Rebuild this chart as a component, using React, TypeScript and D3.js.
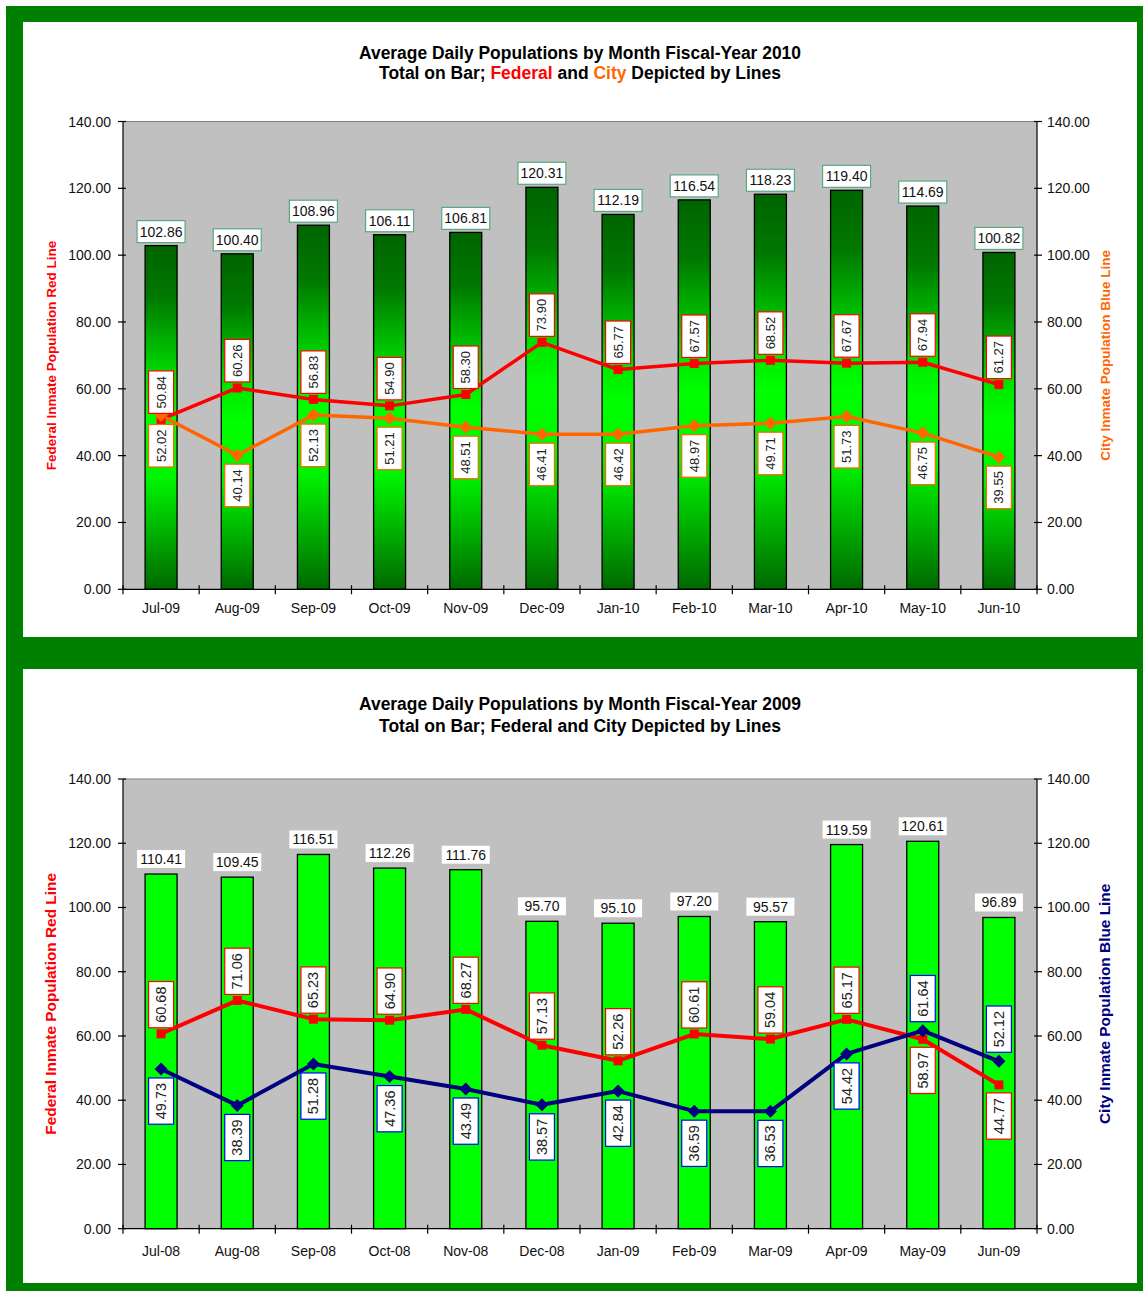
import * as d3 from 'd3';

// FY 2010 (top chart)
const MONTHS_2010 = ['Jul-09', 'Aug-09', 'Sep-09', 'Oct-09', 'Nov-09', 'Dec-09', 'Jan-10', 'Feb-10', 'Mar-10', 'Apr-10', 'May-10', 'Jun-10'];
const TOTAL_2010 = [102.86, 100.4, 108.96, 106.11, 106.81, 120.31, 112.19, 116.54, 118.23, 119.4, 114.69, 100.82];
const FEDERAL_2010 = [50.84, 60.26, 56.83, 54.9, 58.3, 73.9, 65.77, 67.57, 68.52, 67.67, 67.94, 61.27];
const CITY_2010 = [52.02, 40.14, 52.13, 51.21, 48.51, 46.41, 46.42, 48.97, 49.71, 51.73, 46.75, 39.55];

// FY 2009 (bottom chart)
const MONTHS_2009 = ['Jul-08', 'Aug-08', 'Sep-08', 'Oct-08', 'Nov-08', 'Dec-08', 'Jan-09', 'Feb-09', 'Mar-09', 'Apr-09', 'May-09', 'Jun-09'];
const TOTAL_2009 = [110.41, 109.45, 116.51, 112.26, 111.76, 95.7, 95.1, 97.2, 95.57, 119.59, 120.61, 96.89];
const FEDERAL_2009 = [60.68, 71.06, 65.23, 64.9, 68.27, 57.13, 52.26, 60.61, 59.04, 65.17, 58.97, 44.77];
const CITY_2009 = [49.73, 38.39, 51.28, 47.36, 43.49, 38.57, 42.84, 36.59, 36.53, 54.42, 61.64, 52.12];

const Y_TICKS = [0, 20, 40, 60, 80, 100, 120, 140];

const FONT = '"Liberation Sans", Arial, Helvetica, sans-serif';
const FRAME = '#008000';

interface ChartCfg {
  id: string;
  months: string[];
  totals: number[];
  federal: number[];
  city: number[];
  cityColor: string;
  cityBox: string;
  gradient: boolean;
  labelMode: 'federalAbove' | 'higherAbove';
  title1: string;
  title2: { t: string; c: string }[];
  titleSize: number;
  titleY: [number, number];
  plotTop: number;
  plotBottom: number;
  axisTitleSize: number;
  labelSize: number;
  totalBorder: string | null;
  xLabelY: number;
  lineWidth: number;
}

const PLOT_LEFT = 123;
const PLOT_RIGHT = 1037;

function diamond(cx: number, cy: number, r: number) {
  return `M${cx},${cy - r}L${cx + r},${cy}L${cx},${cy + r}L${cx - r},${cy}Z`;
}

function Chart({ cfg }: { cfg: ChartCfg }) {
  const x = d3.scaleBand<string>().domain(cfg.months).range([PLOT_LEFT, PLOT_RIGHT]);
  const y = d3.scaleLinear().domain([0, 140]).range([cfg.plotBottom, cfg.plotTop]);
  const bw = x.bandwidth() * 0.42;
  const cx = (i: number) => (x(cfg.months[i]) as number) + x.bandwidth() / 2;

  const line = d3.line<number>().x((_, i) => cx(i)).y(d => y(d));

  const boxW = 25;
  const boxH = cfg.labelSize * 2.5 + 10;

  const fedAbove = (i: number) =>
    cfg.labelMode === 'federalAbove' ? true : cfg.federal[i] >= cfg.city[i];

  const rotLabel = (v: number, i: number, above: boolean, gap: number, stroke: string, key: string) => {
    const px = cx(i);
    const py = y(v);
    const cy = above ? py - gap - boxH / 2 : py + gap + boxH / 2;
    return (
      <g key={key}>
        <rect x={px - boxW / 2} y={cy - boxH / 2} width={boxW} height={boxH} fill="#fff" stroke={stroke} strokeWidth={1.2} />
        <text
          transform={`translate(${px},${cy}) rotate(-90)`}
          textAnchor="middle"
          dominantBaseline="central"
          fontSize={cfg.labelSize}
          fill="#222"
        >
          {v.toFixed(2)}
        </text>
      </g>
    );
  };

  const midY = (cfg.plotTop + cfg.plotBottom) / 2;

  return (
    <g fontFamily={FONT}>
      <defs>
        <linearGradient id={`${cfg.id}-grad`} x1="0" y1="0" x2="0" y2="1">
          <stop offset="0" stopColor="#006400" />
          <stop offset="0.15" stopColor="#007800" />
          <stop offset="0.4" stopColor="#00e800" />
          <stop offset="0.5" stopColor="#00ff00" />
          <stop offset="0.68" stopColor="#00f400" />
          <stop offset="1" stopColor="#006800" />
        </linearGradient>
      </defs>

      {/* Title */}
      <text x={580} y={cfg.titleY[0]} textAnchor="middle" fontWeight="bold" fontSize={cfg.titleSize}
        textLength={442} lengthAdjust="spacingAndGlyphs">
        {cfg.title1}
      </text>
      <text x={580} y={cfg.titleY[1]} textAnchor="middle" fontWeight="bold" fontSize={cfg.titleSize}
        textLength={402} lengthAdjust="spacingAndGlyphs">
        {cfg.title2.map((p, i) => (
          <tspan key={i} fill={p.c}>{p.t}</tspan>
        ))}
      </text>

      {/* Plot area */}
      <rect x={PLOT_LEFT} y={cfg.plotTop} width={PLOT_RIGHT - PLOT_LEFT} height={cfg.plotBottom - cfg.plotTop} fill="#c0c0c0" />
      <line x1={PLOT_LEFT} x2={PLOT_RIGHT} y1={cfg.plotTop} y2={cfg.plotTop} stroke="#808080" strokeWidth={1} />

      {/* Bars */}
      {cfg.totals.map((v, i) => (
        <rect
          key={`b${i}`}
          x={cx(i) - bw / 2}
          y={y(v)}
          width={bw}
          height={cfg.plotBottom - y(v)}
          fill={cfg.gradient ? `url(#${cfg.id}-grad)` : '#00ff00'}
          stroke="#000"
          strokeWidth={1.3}
        />
      ))}

      {/* Axes */}
      <line x1={PLOT_LEFT} x2={PLOT_LEFT} y1={cfg.plotTop} y2={cfg.plotBottom} stroke="#000" strokeWidth={1.2} />
      <line x1={PLOT_RIGHT} x2={PLOT_RIGHT} y1={cfg.plotTop} y2={cfg.plotBottom} stroke="#000" strokeWidth={1.2} />
      <line x1={PLOT_LEFT} x2={PLOT_RIGHT} y1={cfg.plotBottom} y2={cfg.plotBottom} stroke="#000" strokeWidth={1.2} />

      {Y_TICKS.map(t => (
        <g key={`yt${t}`}>
          <line x1={PLOT_LEFT - 5} x2={PLOT_LEFT + 3} y1={y(t)} y2={y(t)} stroke="#000" strokeWidth={1.2} />
          <line x1={PLOT_RIGHT - 3} x2={PLOT_RIGHT + 5} y1={y(t)} y2={y(t)} stroke="#000" strokeWidth={1.2} />
          <text x={111} y={y(t)} textAnchor="end" dominantBaseline="central" fontSize={14} fill="#111">{t.toFixed(2)}</text>
          <text x={1047} y={y(t)} textAnchor="start" dominantBaseline="central" fontSize={14} fill="#111">{t.toFixed(2)}</text>
        </g>
      ))}

      {[...cfg.months.map(m => x(m) as number), PLOT_RIGHT].map((xx, i) => (
        <line key={`xt${i}`} x1={xx} x2={xx} y1={cfg.plotBottom - 4} y2={cfg.plotBottom + 5} stroke="#000" strokeWidth={1.2} />
      ))}
      {cfg.months.map((m, i) => (
        <text key={`xl${i}`} x={cx(i)} y={cfg.xLabelY} textAnchor="middle" fontSize={14} fill="#111">{m}</text>
      ))}

      {/* Axis titles */}
      <text transform={`translate(56,${midY}) rotate(-90)`} textAnchor="middle" fontWeight="bold"
        fontSize={cfg.axisTitleSize} fill="#ff0000">
        Federal Inmate Population Red Line
      </text>
      <text transform={`translate(${1110},${midY}) rotate(-90)`} textAnchor="middle" fontWeight="bold"
        fontSize={cfg.axisTitleSize} fill={cfg.cityColor}>
        City Inmate Population Blue Line
      </text>

      {/* Lines */}
      <path d={line(cfg.federal) ?? ''} fill="none" stroke="#ff0000" strokeWidth={cfg.lineWidth} strokeLinejoin="round" />
      <path d={line(cfg.city) ?? ''} fill="none" stroke={cfg.cityColor} strokeWidth={cfg.lineWidth} strokeLinejoin="round" />
      {cfg.federal.map((v, i) => (
        <rect key={`fm${i}`} x={cx(i) - 4.5} y={y(v) - 4.5} width={9} height={9} fill="#ff0000" />
      ))}
      {cfg.city.map((v, i) => (
        <path key={`cm${i}`} d={diamond(cx(i), y(v), 6.5)} fill={cfg.cityColor} />
      ))}

      {/* Total labels */}
      {cfg.totals.map((v, i) => {
        const w = 48;
        const h = cfg.totalBorder ? 22 : 18;
        const by = y(v) - (cfg.totalBorder ? 3 : 6) - h;
        return (
          <g key={`tl${i}`}>
            <rect x={cx(i) - w / 2} y={by} width={w} height={h} fill="#fff"
              stroke={cfg.totalBorder ?? 'none'} strokeWidth={1.2} />
            <text x={cx(i)} y={by + h / 2} textAnchor="middle" dominantBaseline="central" fontSize={14} fill="#111">
              {v.toFixed(2)}
            </text>
          </g>
        );
      })}

      {/* Line labels */}
      {cfg.federal.map((v, i) => {
        const above = fedAbove(i);
        return rotLabel(v, i, above, above ? 6 : 8, '#ff0000', `fl${i}`);
      })}
      {cfg.city.map((v, i) => {
        const above = !fedAbove(i);
        return rotLabel(v, i, above, 9, cfg.cityBox, `cl${i}`);
      })}
    </g>
  );
}

const TOP: ChartCfg = {
  id: 'fy2010',
  months: MONTHS_2010,
  totals: TOTAL_2010,
  federal: FEDERAL_2010,
  city: CITY_2010,
  cityColor: '#ff6600',
  cityBox: '#ff6600',
  gradient: true,
  labelMode: 'federalAbove',
  title1: 'Average Daily Populations by Month Fiscal-Year 2010',
  title2: [
    { t: 'Total on Bar; ', c: '#000' },
    { t: 'Federal', c: '#ff0000' },
    { t: ' and ', c: '#000' },
    { t: 'City', c: '#ff6600' },
    { t: ' Depicted by Lines', c: '#000' },
  ],
  titleSize: 17.5,
  titleY: [59, 79],
  plotTop: 121.5,
  plotBottom: 589.3,
  axisTitleSize: 13.5,
  labelSize: 13,
  totalBorder: '#5aa882',
  xLabelY: 613,
  lineWidth: 3.5,
};

const BOTTOM: ChartCfg = {
  id: 'fy2009',
  months: MONTHS_2009,
  totals: TOTAL_2009,
  federal: FEDERAL_2009,
  city: CITY_2009,
  cityColor: '#000080',
  cityBox: '#0000ff',
  gradient: false,
  labelMode: 'higherAbove',
  title1: 'Average Daily Populations by Month Fiscal-Year 2009',
  title2: [{ t: 'Total on Bar; Federal and City Depicted by Lines', c: '#000' }],
  titleSize: 18,
  titleY: [709.5, 731.5],
  plotTop: 779,
  plotBottom: 1228.7,
  axisTitleSize: 15.4,
  labelSize: 14.5,
  totalBorder: null,
  xLabelY: 1256,
  lineWidth: 4,
};

export default function App() {
  return (
    <svg
      width={1143}
      height={1291}
      style={{ position: 'absolute', left: 0, top: 0, background: '#fff' }}
    >
      <rect x={6} y={6} width={1137} height={1285} fill={FRAME} />
      <rect x={23} y={22} width={1114} height={615} fill="#fff" />
      <rect x={23} y={669} width={1114} height={614} fill="#fff" />
      <Chart cfg={TOP} />
      <Chart cfg={BOTTOM} />
    </svg>
  );
}
